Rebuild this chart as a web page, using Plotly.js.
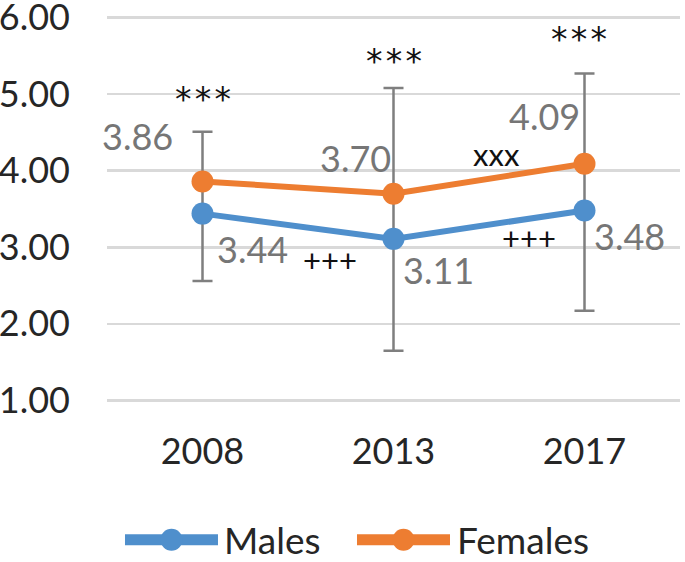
<!DOCTYPE html>
<html>
<head>
<meta charset="utf-8">
<script src="https://cdn.plot.ly/plotly-3.0.1.min.js"></script>
<style>
  html, body { margin: 0; padding: 0; background: #fff; }
  #chart { width: 685px; height: 562px; }
</style>
</head>
<body>
<div id="chart"></div>
<script>
// survey years
var years = ['2008', '2013', '2017'];

// mean scores
var males = [3.44, 3.11, 3.48];
var females = [3.86, 3.70, 4.09];

// whisker ends
var errLow = [2.56, 1.65, 2.17];
var errHigh = [4.51, 5.08, 5.27];

var fontFam = 'Lato, "Open Sans", sans-serif';
var labelGrey = '#767676';
var blue = '#4f8fcc';
var orange = '#ed7d31';

var errTrace = {
    x: years,
    y: males,
    type: 'scatter',
    mode: 'markers',
    marker: {opacity: 0, size: 1},
    showlegend: false,
    hoverinfo: 'skip',
    error_y: {
        type: 'data',
        symmetric: false,
        array: errHigh.map(function(h, i){ return h - males[i]; }),
        arrayminus: errLow.map(function(l, i){ return males[i] - l; }),
        color: '#7f7f7f',
        thickness: 2.5,
        width: 10
    }
};

var maleTrace = {
    name: 'Males',
    x: years,
    y: males,
    type: 'scatter',
    mode: 'lines+markers',
    line: {color: blue, width: 6},
    marker: {color: blue, size: 22}
};

var femaleTrace = {
    name: 'Females',
    x: years,
    y: females,
    type: 'scatter',
    mode: 'lines+markers',
    line: {color: orange, width: 6},
    marker: {color: orange, size: 22}
};

// value labels next to the points (x given as category index)
var annotations = [];
var femShift = [[-65, 45], [-38, 36], [-40, 48]];
var maleShift = [[50, -35], [45, -31], [45, -25]];
years.forEach(function(yr, i){
    annotations.push({
        x: i, y: females[i], text: females[i].toFixed(2), showarrow: false,
        xshift: femShift[i][0], yshift: femShift[i][1],
        font: {family: fontFam, size: 36, color: labelGrey}
    });
    annotations.push({
        x: i, y: males[i], text: males[i].toFixed(2), showarrow: false,
        xshift: maleShift[i][0], yshift: maleShift[i][1],
        font: {family: fontFam, size: 36, color: labelGrey}
    });
});

// significance marks
var stars = '*\u200A*\u200A*';
var marks = [
    {x: 0, y: 4.93, text: stars, font: 'DejaVu Sans'},
    {x: 1, y: 5.43, text: stars, font: 'DejaVu Sans'},
    {x: 1.97, y: 5.71, text: stars, font: 'DejaVu Sans'},
    {x: 1.54, y: 4.22, text: 'xxx', font: fontFam},
    {x: 0.67, y: 2.84, text: '+++', font: fontFam},
    {x: 1.71, y: 3.12, text: '+++', font: fontFam}
];
marks.forEach(function(m){
    annotations.push({
        x: m.x, y: m.y, text: m.text, showarrow: false,
        font: {family: m.font, size: m.font === fontFam ? 31 : 33, color: '#111'}
    });
});

// legend drawn by hand so the keys get the long Excel-style line
var shapes = [];
var legendY = -0.357;
var legendItems = [
    {trace: maleTrace, x0: 0.0314, x1: 0.1937, tx: 0.2007},
    {trace: femaleTrace, x0: 0.4363, x1: 0.5986, tx: 0.6073}
];
legendItems.forEach(function(it){
    var c = it.trace.line.color;
    shapes.push({
        type: 'line', xref: 'paper', yref: 'paper',
        x0: it.x0, x1: it.x1, y0: legendY, y1: legendY,
        line: {color: c, width: 11}
    });
    shapes.push({
        type: 'circle', xref: 'paper', yref: 'paper',
        xsizemode: 'pixel', ysizemode: 'pixel',
        xanchor: (it.x0 + it.x1) / 2, yanchor: legendY,
        x0: -11, x1: 11, y0: -11, y1: 11,
        fillcolor: c, line: {width: 0}
    });
    annotations.push({
        xref: 'paper', yref: 'paper', x: it.tx, y: legendY,
        xanchor: 'left', yanchor: 'middle', showarrow: false,
        text: it.trace.name,
        font: {family: fontFam, size: 37, color: '#262626'}
    });
});

var layout = {
    width: 685,
    height: 562,
    margin: {l: 107, r: 5, t: 16, b: 159.8, autoexpand: false},
    paper_bgcolor: '#fff',
    plot_bgcolor: '#fff',
    font: {family: fontFam, size: 36, color: '#262626'},
    xaxis: {
        type: 'category',
        range: [-0.5, 2.5],
        showgrid: false,
        showline: false,
        zeroline: false,
        ticks: '',
        ticklabelstandoff: 25,
        tickfont: {size: 36, color: '#262626'}
    },
    yaxis: {
        range: [0.98, 6.02],
        tickvals: [1, 2, 3, 4, 5, 6],
        tickformat: '.2f',
        showgrid: true,
        gridcolor: '#d9d9d9',
        gridwidth: 2.5,
        showline: false,
        zeroline: false,
        ticks: '',
        ticklabelstandoff: 36,
        ticklabeloverflow: 'allow',
        tickfont: {size: 36, color: '#262626'}
    },
    showlegend: false,
    shapes: shapes,
    annotations: annotations
};

Plotly.newPlot('chart', [errTrace, maleTrace, femaleTrace], layout, {displayModeBar: false, staticPlot: true});
</script>
</body>
</html>
